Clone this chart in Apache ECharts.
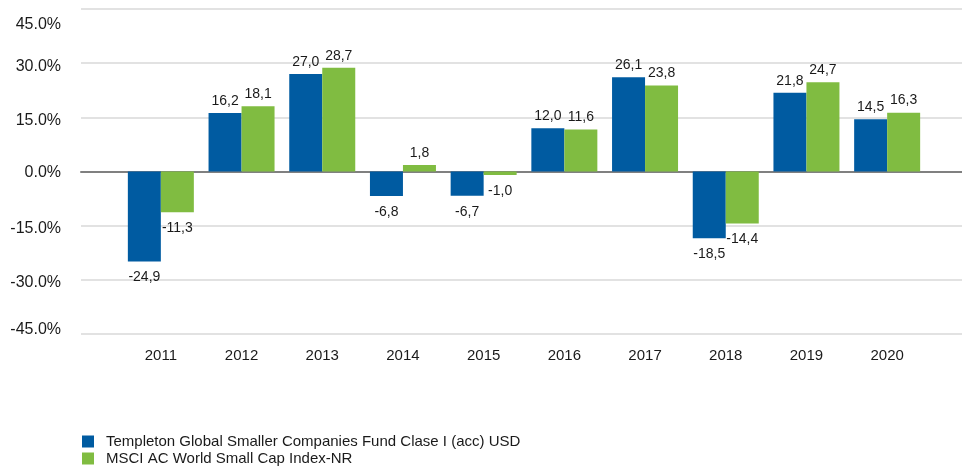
<!DOCTYPE html>
<html>
<head>
<meta charset="utf-8">
<script src="https://cdn.jsdelivr.net/npm/echarts@6/dist/echarts.min.js"></script>
<style>
  html, body { margin: 0; padding: 0; background: #fff; }
  #main { width: 962px; height: 475px; }
</style>
</head>
<body>
<div id="main"></div>
<script>
var years = ['2011', '2012', '2013', '2014', '2015', '2016', '2017', '2018', '2019', '2020'];
var fundValues = [-24.9, 16.2, 27.0, -6.8, -6.7, 12.0, 26.1, -18.5, 21.8, 14.5];
var indexValues = [-11.3, 18.1, 28.7, 1.8, -1.0, 11.6, 23.8, -14.4, 24.7, 16.3];
var fundName = 'Templeton Global Smaller Companies Fund Clase I (acc) USD';
var indexName = 'MSCI AC World Small Cap Index-NR';

var font = 'Liberation Sans, Arial, sans-serif';
var textColor = '#1a1a1a';

function fmt(p) {
    return p.value.toFixed(1).replace('.', ',');
}

// negative values get their label under the bar
function buildData(values) {
    return values.map(function (v) {
        if (v < 0) {
            return { value: v, label: { position: 'bottom', distance: 9 } };
        }
        return v;
    });
}

function yLabelStyle(pad) {
    return { fontFamily: font, fontSize: 16, lineHeight: 18, color: textColor, padding: pad };
}

var myChart = echarts.init(document.getElementById('main'));
myChart.setOption({
    animation: false,
    grid: [
        { left: 120.5, right: 34.5, top: 9, bottom: 141, outerBoundsMode: 'none' },
        { left: 81, right: 0, top: 9, bottom: 141, outerBoundsMode: 'none' }
    ],
    legend: {
        orient: 'vertical',
        left: 82,
        top: 433,
        height: 42,
        padding: 0,
        itemWidth: 12,
        itemHeight: 12,
        itemGap: 0,
        icon: 'rect',
        textStyle: { fontFamily: font, fontSize: 15, lineHeight: 17, color: textColor, padding: [0, 0, 0, 7] },
        data: [fundName, indexName]
    },
    xAxis: [
        {
            type: 'category',
            gridIndex: 0,
            data: years,
            axisLine: { show: false, onZero: false },
            axisTick: { show: false },
            axisLabel: { margin: 14, fontFamily: font, fontSize: 15, color: textColor }
        },
        {
            type: 'value',
            gridIndex: 1,
            min: 0,
            max: 1,
            axisLine: { show: true, onZero: true, lineStyle: { color: '#808080', width: 2 } },
            axisTick: { show: false },
            axisLabel: { show: false },
            splitLine: { show: false }
        }
    ],
    yAxis: [
        {
            type: 'value',
            gridIndex: 0,
            min: -45,
            max: 45,
            interval: 15,
            axisLine: { show: false },
            axisTick: { show: false },
            axisLabel: { show: false },
            splitLine: { show: false }
        },
        {
            type: 'value',
            gridIndex: 1,
            min: -45,
            max: 45,
            interval: 15,
            axisLine: { show: false },
            axisTick: { show: false },
            axisLabel: {
                margin: 20,
                fontFamily: font,
                fontSize: 16,
                color: textColor,
                formatter: function (v) {
                    var s = v.toFixed(1) + '%';
                    if (v === 45) return '{top|' + s + '}';
                    if (v === -45) return '{bot|' + s + '}';
                    if (v === 0) return '{mid|' + s + '}';
                    return '{n|' + s + '}';
                },
                rich: {
                    top: yLabelStyle([31, 0, 0, 0]),
                    bot: yLabelStyle([0, 0, 9, 0]),
                    mid: yLabelStyle([3, 0, 0, 0]),
                    n: yLabelStyle([6, 0, 0, 0])
                }
            },
            splitLine: { lineStyle: { color: '#d9d9d9', width: 1.5 } }
        }
    ],
    series: [
        {
            name: fundName,
            type: 'bar',
            xAxisIndex: 0,
            yAxisIndex: 0,
            barWidth: 33,
            barGap: '0%',
            itemStyle: { color: '#005BA1' },
            label: {
                show: true,
                position: 'top',
                distance: 5,
                fontFamily: font,
                fontSize: 14,
                color: textColor,
                formatter: fmt
            },
            data: buildData(fundValues),
            z: 3
        },
        {
            name: indexName,
            type: 'bar',
            xAxisIndex: 0,
            yAxisIndex: 0,
            barWidth: 33,
            barGap: '0%',
            itemStyle: { color: '#80BC41' },
            label: {
                show: true,
                position: 'top',
                distance: 5,
                fontFamily: font,
                fontSize: 14,
                color: textColor,
                formatter: fmt
            },
            data: buildData(indexValues),
            z: 3
        }
    ]
});
window.addEventListener('resize', function () {
    myChart.resize();
});
</script>
</body>
</html>
